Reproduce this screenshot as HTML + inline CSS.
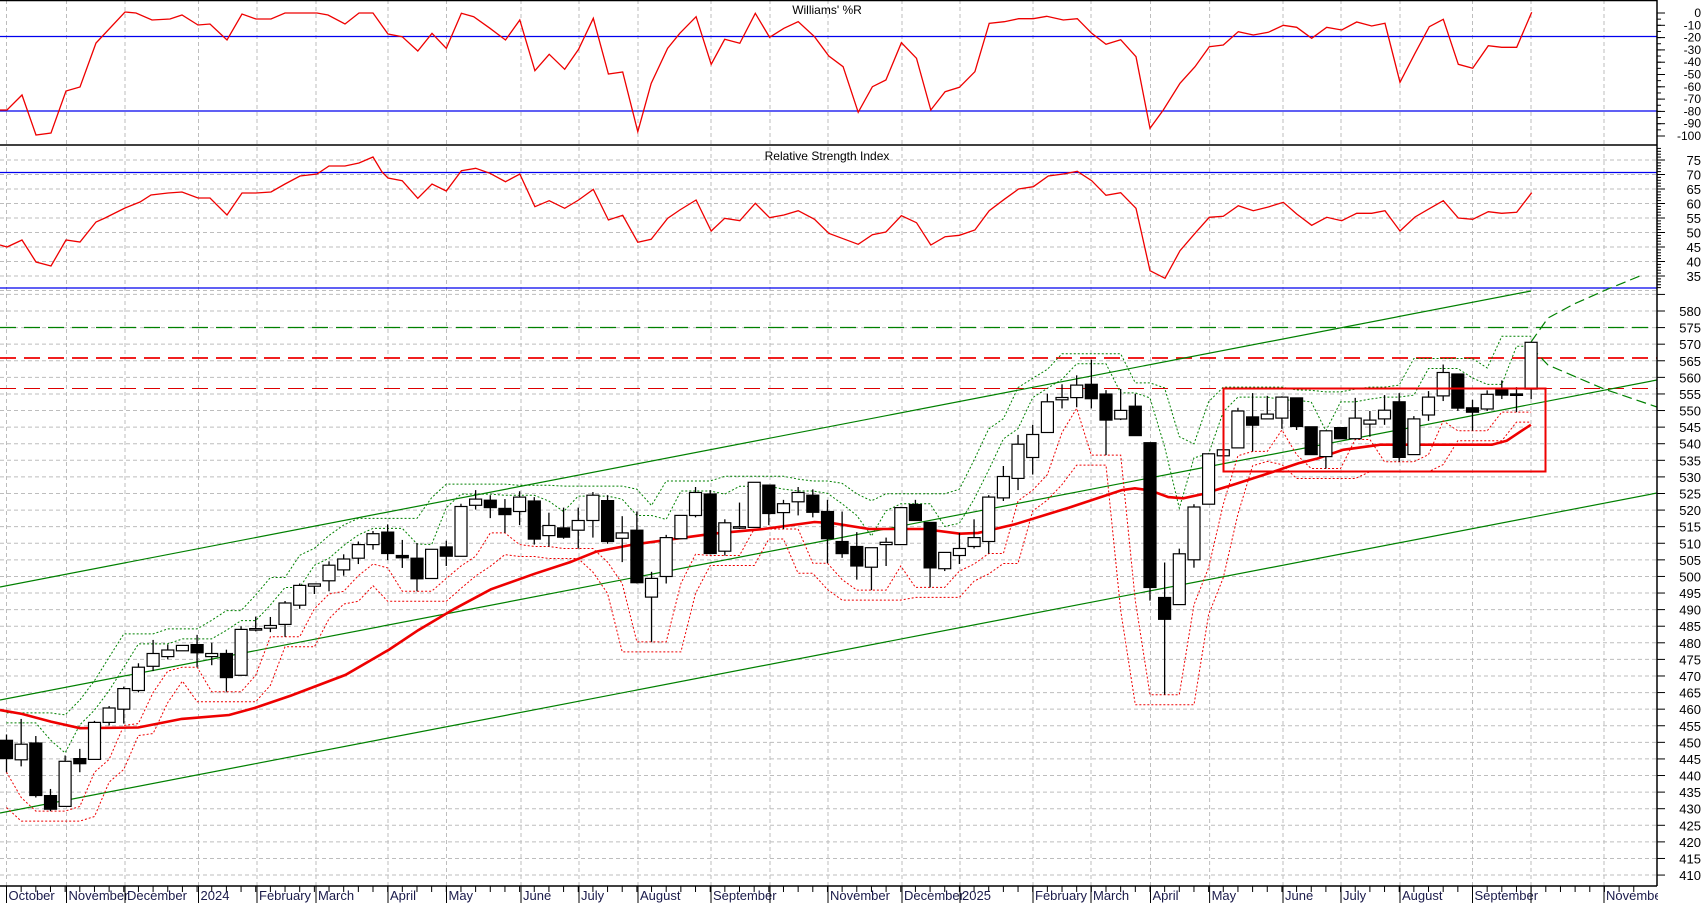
<!DOCTYPE html>
<html><head><meta charset="utf-8">
<style>
html,body{margin:0;padding:0;background:#fff;}
svg{display:block;font-family:"Liberation Sans",Arial,sans-serif;}
</style></head>
<body>
<svg id="c" width="1704" height="903" viewBox="0 0 1704 903" xmlns="http://www.w3.org/2000/svg"></svg>
<script>
var S=[];
function L(x1,y1,x2,y2,st){S.push('<line x1="'+x1+'" y1="'+y1+'" x2="'+x2+'" y2="'+y2+'" '+st+'/>');}
function PL(pts,st){S.push('<polyline fill="none" points="'+pts.map(function(p){return p[0].toFixed(1)+','+p[1].toFixed(1)}).join(' ')+'" '+st+'/>');}
function T(x,y,t,st){S.push('<text x="'+x+'" y="'+y+'" '+st+'>'+t+'</text>');}
var R=1657;
var gx=[6.5,66.5,125,198.5,257,316,388,446.5,521,579,638,711,770,828,902,960,1033,1091,1150.5,1209.6,1283,1341,1400,1472.5,1531,1604];
var gs='stroke="#bdbdbd" stroke-width="1" stroke-dasharray="4,3"';
gx.forEach(function(x){L(x,0,x,886,gs);});
for(var v=75;v>=30;v-=5){var y=160+(75-v)*2.9;L(0,y,R,y,gs);}
function py(p){return 311+(580-p)*3.318;}
for(var p=585;p>=405;p-=5){L(0,py(p),R,py(p),gs);}
L(0,0.5,R,0.5,'stroke="#000" stroke-width="1.5"');
L(0,145,R,145,'stroke="#000" stroke-width="1.5"');
L(0,36.5,R,36.5,'stroke="#0000ee" stroke-width="1.3"');
L(0,111,R,111,'stroke="#0000ee" stroke-width="1.3"');
L(0,172.5,R,172.5,'stroke="#0000ee" stroke-width="1.3"');
L(0,288,R,288,'stroke="#0000ee" stroke-width="1.3"');
L(0,327.5,R,327.5,'stroke="#008000" stroke-width="1.3" stroke-dasharray="16,8"');
L(0,358,R,358,'stroke="#ee0000" stroke-width="1.8" stroke-dasharray="16,8"');
L(0,388.5,R,388.5,'stroke="#dd0000" stroke-width="1" stroke-dasharray="16,8"');
L(0,587,1531,291,'stroke="#008000" stroke-width="1.2"');
L(0,700,R,380,'stroke="#008000" stroke-width="1.2"');
L(0,813,R,493,'stroke="#008000" stroke-width="1.2"');
PL([[1531,342],[1548,318],[1574,304],[1608,289],[1640,276]],'stroke="#008000" stroke-width="1.2" stroke-dasharray="10,5"');
PL([[1531,347],[1548,365],[1604,389],[1657,407]],'stroke="#008000" stroke-width="1.2" stroke-dasharray="10,5"');
var z3=[[1,1183,1230,1168,1265],[0,1193,1233,1128,1250],[1,1190,1325,1172,1330],[1,1325,1360,1308,1365],[0,1237,1353,1222,1353],[1,1230,1243,1205,1265],[0,1137,1232,1133,1232],[0,1100,1137,1095,1145],[0,1050,1103,1045,1140],[0,995,1055,985,1060],[0,960,993,925,1005],[0,951,968,937,975],[0,939,953,939,953],[1,937,958,912,995],[0,960,968,932,990],[1,960,1022,950,1058],[0,898,1016,890,1016],[0,896,899,865,903],[0,888,895,866,905],[0,830,885,825,917],[0,785,836,780,845],[0,781,787,781,807],[0,733,773,723,800],[0,717,745,705,760],[0,680,715,672,730],[0,652,680,645,693],[1,648,703,628,720],[1,708,714,668,740],[1,715,768,676,800],[0,692,767,692,767],[1,686,710,670,735],[0,582,710,575,710],[0,563,579,540,590],[1,566,585,553,612],[1,587,603,563,650],[0,558,595,543,630],[1,568,666,558,680],[0,631,657,598,685],[1,637,661,585,665]];
var z4=[[0,618,643,585,690],[0,553,618,545,662],[1,567,672,553,678],[0,650,664,607,725],[1,643,778,595,780],[0,767,815,750,930],[0,662,762,655,780],[0,605,665,605,665],[0,546,605,532,610],[1,550,703,540,705],[0,624,697,615,708],[0,634,637,572,640],[0,520,636,520,636],[1,527,600,527,630],[0,575,598,565,640],[0,546,570,532,605],[1,553,597,538,610],[1,595,665,565,728],[1,672,703,595,714],[1,685,735,648,770],[0,688,738,688,797],[0,674,680,662,735],[0,585,680,583,680],[1,577,618,565,618],[1,623,740,623,790],[0,700,742,700,748],[0,690,708,650,730],[0,662,685,615,690],[0,558,672,553,703],[0,505,560,478,568],[0,422,510,398,540],[0,397,456,372,500],[0,313,392,292,392],[0,302,308,268,330],[0,270,302,245,327],[1,268,305,205,330],[1,293,360,283,450],[0,335,357,280,360]];
var z5=[[1,318,392,287,392],[1,410,775,410,808],[1,800,855,712,1045],[0,690,818,677,818],[0,572,705,565,725],[0,438,565,438,565],[0,428,443,428,443],[0,330,423,322,423],[1,345,366,285,432],[0,338,350,292,350],[0,295,348,293,375],[1,297,369,297,378],[1,370,440,370,440],[0,380,445,380,475],[1,372,400,372,400],[0,348,400,297,402],[0,353,363,330,395],[0,328,350,290,365],[1,307,447,285,458],[0,350,440,343,440],[0,295,340,280,355],[0,233,292,213,305],[1,237,323,237,330],[1,322,333,302,380],[0,288,325,278,330],[1,277,290,253,300],[1,287,290,270,333],[0,157,275,157,300]];
var C=[];
z3.concat(z4).forEach(function(c){C.push([c[0],280+c[1]/2.57,280+c[2]/2.57,280+c[3]/2.57,280+c[4]/2.57]);});
z5.forEach(function(c){C.push([c[0],280+c[1]/2.52,280+c[2]/2.52,280+c[3]/2.52,280+c[4]/2.52]);});
function cx(i){return 6.5+14.66*i;}
var n=C.length,gu=[],gi=[],ro=[],ri=[];
for(var i=0;i<n;i++){
 var h1=1e9,h2=1e9,l1=-1e9,l2=-1e9;
 for(var k=i-2;k<=i+2;k++){if(k<0||k>=n)continue;h2=Math.min(h2,C[k][3]);l2=Math.max(l2,C[k][4]);if(Math.abs(k-i)<=1){h1=Math.min(h1,C[k][3]);l1=Math.max(l1,C[k][4]);}}
 gu.push([cx(i),h2-6]);gi.push([cx(i),h1+4]);ro.push([cx(i),l2+10]);ri.push([cx(i),l1]);
}
PL(gu,'stroke="#008000" stroke-width="1" stroke-dasharray="2,2"');
PL(gi,'stroke="#008000" stroke-width="1" stroke-dasharray="2,2"');
PL(ro,'stroke="#ee0000" stroke-width="1" stroke-dasharray="2,2"');
PL(ri,'stroke="#ee0000" stroke-width="1" stroke-dasharray="2,2"');
var ma=[];
[[0,1105],[60,1115],[140,1135],[220,1152],[380,1150],[500,1128],[630,1118],[700,1100],[800,1068],[950,1015],[1070,950],[1150,900],[1250,845],[1350,795],[1470,755],[1568,725]].forEach(function(p){ma.push([p[0]/2.75,280+p[1]/2.57]);});
[[100,698],[200,680],[420,652],[560,640],[700,622],[750,625],[850,640],[1000,640],[1100,652],[1150,650],[1250,628],[1400,585],[1545,540]].forEach(function(p){ma.push([560+p[0]/2.75,280+p[1]/2.57]);});
[[40,525],[80,530],[130,547],[170,550],[220,540],[300,517],[400,487],[480,462],[530,450],[600,428],[700,415],[800,415],[1000,415],[1040,405],[1080,380],[1105,365]].forEach(function(p){ma.push([1120+p[0]/2.689,280+p[1]/2.52]);});
PL(ma,'stroke="#ee0000" stroke-width="2.6"');
for(var i=0;i<n;i++){var c=C[i],x=cx(i);
 L(x,c[3],x,c[4],'stroke="#000" stroke-width="1.3"');
 var h=Math.max(c[2]-c[1],1.5);
 S.push('<rect x="'+(x-6).toFixed(1)+'" y="'+c[1].toFixed(1)+'" width="12" height="'+h.toFixed(1)+'" fill="'+(c[0]?'#000':'#fff')+'" stroke="#000" stroke-width="1.2"/>');
}
S.push('<rect x="1223.5" y="388.5" width="322" height="83" fill="none" stroke="#ee0000" stroke-width="2"/>');
// Williams
var w=[[0,110],[7,110],[22,95],[36,135],[51,133],[66,91],[80,87],[96,43],[125,12],[136,13],[152,20],[170,19],[182,15],[198,25],[210,24],[227,40],[242,14],[256,19],[271,19],[285,13],[317,13],[328,15],[345,24],[359,13],[373,13],[388,34]].map(function(p){return [p[0],p[1]];});
[[30,110],[68,153],[103,100],[138,145],[175,40],[205,50],[245,85],[283,120],[318,60],[355,212],[390,163],[428,208],[462,148],[498,55],[535,222],[570,216],[607,395],[640,250],[680,145],[710,100],[750,50],[787,193],[820,118],[857,130],[895,40],[930,112],[965,85],[1000,65],[1040,110],[1075,168],[1110,200],[1147,337],[1182,260],[1215,240],[1253,128],[1290,175],[1325,330],[1360,275],[1395,262],[1433,215],[1468,70],[1505,65],[1540,56]].forEach(function(p){w.push([390+p[0]/2.45,p[1]/3]);});
[[40,56],[80,49],[130,60],[172,56],[215,100],[258,133],[302,119],[348,170],[390,385],[430,330],[480,250],[525,200],[568,140],[610,135],[655,95],[700,105],[745,97],[790,76],[830,82],[875,115],[920,82],[965,90],[1010,66],[1055,78],[1095,70],[1140,247],[1185,160],[1228,80],[1270,58],[1315,193],[1358,205],[1405,137],[1445,142],[1490,142],[1535,37]].forEach(function(p){w.push([1020+p[0]/3,p[1]/3]);});
PL(w,'stroke="#ee0000" stroke-width="1.3"');
// RSI
var r=[[0,245],[7,247],[22,240],[36,262],[51,266],[66,240],[80,242],[96,222],[105,218],[125,208],[140,202],[151,195],[168,193],[182,192],[198,198],[210,198],[227,215],[242,193],[256,193],[271,192],[285,184],[300,176],[317,174],[329,166],[345,166],[359,163],[373,157],[382,172],[388,178]].map(function(p){return [p[0],p[1]];});
[[30,542],[68,595],[103,552],[138,573],[175,512],[210,505],[245,520],[283,545],[318,522],[355,620],[390,602],[428,625],[462,600],[498,568],[535,660],[570,646],[607,727],[640,718],[680,655],[710,630],[750,600],[787,693],[820,655],[857,662],[895,610],[930,653],[965,645],[1000,632],[1040,658],[1075,700],[1110,716],[1147,733],[1182,704],[1215,696],[1253,647],[1290,668],[1325,735],[1360,710],[1395,706],[1433,690],[1468,632],[1505,598],[1540,567]].forEach(function(p){r.push([390+p[0]/2.45,p[1]/3]);});
[[40,560],[85,528],[130,522],[172,514],[215,542],[258,586],[302,578],[348,625],[390,812],[435,835],[480,752],[525,700],[568,652],[610,649],[655,617],[700,632],[745,621],[790,607],[830,642],[875,676],[920,652],[965,662],[1010,640],[1055,640],[1095,632],[1140,693],[1185,651],[1228,626],[1270,602],[1315,654],[1358,658],[1405,635],[1445,640],[1490,637],[1535,578]].forEach(function(p){r.push([1020+p[0]/3,p[1]/3]);});
PL(r,'stroke="#ee0000" stroke-width="1.3"');
T(827,14,"Williams' %R",'font-size="12" text-anchor="middle" fill="#000"');
T(827,160,"Relative Strength Index",'font-size="12" text-anchor="middle" fill="#000"');
S.push('<rect x="1658" y="0" width="46" height="903" fill="#fff"/>');
L(R,0,R,886,'stroke="#000" stroke-width="1.5"');
for(var v=0;v>=-100;v-=10){var y=13+(-v)*1.23;L(R,y,R+8,y,'stroke="#000"');T(1701,y+4,v,'font-size="12" text-anchor="end" fill="#000"');}
for(var v=0;v>=-100;v-=5){var y=13+(-v)*1.23;L(R,y,R+4,y,'stroke="#000"');}
for(var v=75;v>=35;v-=5){var y=160+(75-v)*2.9;L(R,y,R+8,y,'stroke="#000"');T(1701,y+5,v,'font-size="13" text-anchor="end" fill="#000"');}
for(var v=80;v>=30;v-=1){var y=160+(75-v)*2.9;if(y>146&&y<288)L(R,y,R+4,y,'stroke="#000"');}
for(var p=585;p>=405;p-=5){var y=py(p);L(R,y,R+8,y,'stroke="#000"');if(p<=580&&p>=410)T(1701,y+5,p,'font-size="13" text-anchor="end" fill="#000"');}
S.push('<rect x="0" y="887" width="1704" height="16" fill="#fff"/>');
L(0,886,R,886,'stroke="#000" stroke-width="1.5"');
for(var i=0;i<112;i++){var x=cx(i);if(x<R)L(x,886,x,892,'stroke="#000"');}
var ml=[[6.5,"October"],[66.5,"November"],[125,"December"],[198.5,"2024"],[257,"February"],[316,"March"],[388,"April"],[446.5,"May"],[521,"June"],[579,"July"],[638,"August"],[711,"September"],[770,""],[828,"November"],[902,"December"],[960,"2025"],[1033,"February"],[1091,"March"],[1150.5,"April"],[1209.6,"May"],[1283,"June"],[1341,"July"],[1400,"August"],[1472.5,"September"],[1531,""],[1604,"November"]];
ml.forEach(function(m){L(m[0],886,m[0],903,'stroke="#000"');if(m[1])T(m[0]+2,900,m[1],'font-size="13" fill="#1a1a4a"');});
S.push('<rect x="1658" y="887" width="46" height="16" fill="#fff"/>');
document.getElementById('c').innerHTML=S.join('');
</script>
</body></html>
